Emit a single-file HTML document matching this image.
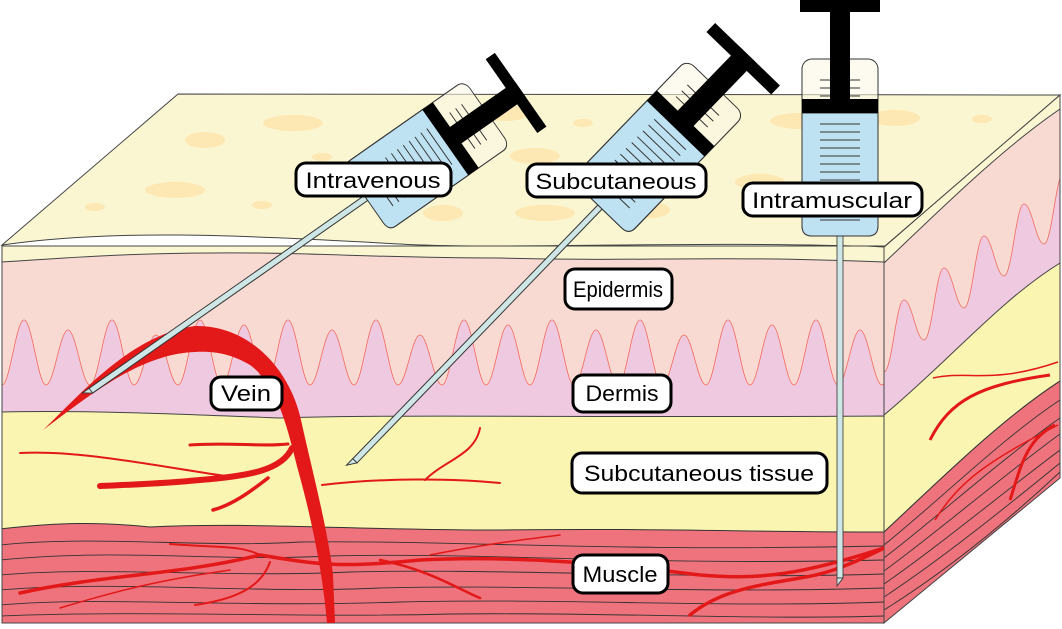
<!DOCTYPE html>
<html><head><meta charset="utf-8"><style>
html,body{margin:0;padding:0;background:#fff;}
svg{display:block;}
text{font-family:"Liberation Sans",sans-serif;font-size:22px;fill:#000;}
</style></head><body>
<svg width="1062" height="629" viewBox="0 0 1062 629" xmlns="http://www.w3.org/2000/svg">
<defs>
<clipPath id="front"><rect x="2" y="246" width="882" height="377"/></clipPath>
<clipPath id="right"><polygon points="884,247 1060,95 1060,478 884,623"/></clipPath>
</defs>
<path d="M2,245 L178,94 L1060,95 L884,247 C700,240 500,250 400,244 C250,236 120,228 2,245 Z" fill="#fbf6d2" stroke="#444" stroke-width="1"/>
<g fill="#fde7b2">
<ellipse cx="293" cy="123" rx="30" ry="8"/><ellipse cx="205" cy="140" rx="20" ry="8"/>
<ellipse cx="175" cy="190" rx="30" ry="8"/><ellipse cx="95" cy="207" rx="10" ry="4"/>
<ellipse cx="262" cy="205" rx="10" ry="4"/><ellipse cx="322" cy="157" rx="10" ry="4"/>
<ellipse cx="443" cy="213" rx="20" ry="8"/><ellipse cx="505" cy="113" rx="25" ry="8"/>
<ellipse cx="545" cy="213" rx="30" ry="8"/><ellipse cx="583" cy="123" rx="10" ry="4"/>
<ellipse cx="650" cy="210" rx="20" ry="8"/><ellipse cx="535" cy="156" rx="25" ry="8"/>
<ellipse cx="800" cy="121" rx="30" ry="8"/><ellipse cx="895" cy="118" rx="25" ry="8"/>
<ellipse cx="982" cy="119" rx="10" ry="4"/><ellipse cx="760" cy="182" rx="25" ry="8"/>
</g>
<g clip-path="url(#front)">
<rect x="2" y="240" width="882" height="390" fill="#f9dad2"/>
<path d="M0,246 C150,226 300,240 400,244 C600,250 750,238 884,247 L884,262 C700,255 650,262 500,258 C350,258 300,250 150,254 C80,256 40,260 0,262 Z" fill="#fbf6d2" stroke="#444" stroke-width="1"/>
<path d="M2,385 c8,0 14,-65 22,-65 s14,65 22,65 s14,-55 22,-55 s14,55 22,55 s14,-65 22,-65 s14,65 22,65 s14,-50 22,-50 s14,50 22,50 s14,-65 22,-65 s14,65 22,65 s14,-60 22,-60 s14,60 22,60 s14,-65 22,-65 s14,65 22,65 s14,-55 22,-55 s14,55 22,55 s14,-65 22,-65 s14,65 22,65 s14,-50 22,-50 s14,50 22,50 s14,-65 22,-65 s14,65 22,65 s14,-60 22,-60 s14,60 22,60 s14,-65 22,-65 s14,65 22,65 s14,-55 22,-55 s14,55 22,55 s14,-65 22,-65 s14,65 22,65 s14,-50 22,-50 s14,50 22,50 s14,-65 22,-65 s14,65 22,65 s14,-60 22,-60 s14,60 22,60 s14,-65 22,-65 s14,65 22,65 s14,-55 22,-55 s14,55 22,55 s14,-65 22,-65 s14,65 22,65 s14,-50 22,-50 s14,50 22,50 s14,-65 22,-65 s14,65 22,65 s14,-60 22,-60 s14,60 22,60 L890,430 L0,430 Z" fill="#efc9e0" stroke="#f26a5a" stroke-width="0.8"/>
<path d="M0,412 C100,410 200,415 280,418 C400,414 600,418 884,416 L884,540 L0,540 Z" fill="#faf5b0" stroke="#444" stroke-width="1"/>
<path d="M0,529 C60,522 100,522 150,527 C250,522 350,530 500,530 C650,528 750,532 884,532 L884,630 L0,630 Z" fill="#ee737c" stroke="#333" stroke-width="1"/>
<g fill="none" stroke="#333" stroke-width="0.9">
<path d="M0,545 C100,535 200,548 300,542 C450,540 600,552 884,546"/>
<path d="M0,560 C120,548 220,562 330,556 C480,552 650,566 884,560"/>
<path d="M0,575 C100,566 220,578 350,572 C500,568 700,580 884,574"/>
<path d="M0,590 C120,580 250,594 380,588 C520,584 700,594 884,588"/>
<path d="M0,605 C100,596 240,608 400,602 C560,598 720,608 884,602"/>
<path d="M0,616 C150,610 300,618 450,614 C600,612 750,620 884,616"/>
</g>
</g>
<rect x="2" y="246" width="882" height="377" fill="none" stroke="#444" stroke-width="1"/>
<g clip-path="url(#right)">
<rect x="884" y="90" width="180" height="540" fill="#f9dad2"/>
<path d="M884,247 C940,200 1000,140 1060,95 L1060,109 C1000,150 940,210 884,263 Z" fill="#fbf6d2" stroke="#444"/>
<path d="M884,372 c8,0 12,-72 20,-72 s12,40 20,40 s12,-72 20,-72 s12,40 20,40 s12,-72 20,-72 s12,40 20,40 s12,-72 20,-72 s12,40 20,40 s12,-72 20,-72 s12,40 20,40 L1070,300 L1070,263 L884,415 Z" fill="#efc9e0" stroke="#f26a5a" stroke-width="0.8"/>
<path d="M884,415 C950,360 1000,300 1060,263 L1060,381 C1000,420 940,480 884,532 Z" fill="#faf5b0" stroke="#444"/>
<path d="M884,532 C940,480 1000,420 1060,381 L1060,480 L884,623 Z" fill="#ee737c" stroke="#333"/>
<g fill="none" stroke="#333" stroke-width="0.9">
<path d="M884,545 C940,500 1000,440 1060,400"/><path d="M884,558 C940,515 1000,460 1060,418"/>
<path d="M884,571 C940,530 1000,478 1060,434"/><path d="M884,584 C940,545 1000,495 1060,450"/>
<path d="M884,597 C940,560 1000,512 1060,463"/><path d="M884,610 C940,575 1000,528 1060,472"/>
</g>
<g fill="none" stroke="#e31818">
<path d="M930,440 C950,400 980,385 1050,375" stroke-width="3"/>
<path d="M933,378 C970,370 990,385 1058,362" stroke-width="1.5"/>
<path d="M935,520 C960,480 990,460 1058,425" stroke-width="1.5"/>
<path d="M1010,500 C1020,470 1025,440 1055,425" stroke-width="3"/>
</g>
</g>
<polygon points="884,247 1060,95 1060,478 884,623" fill="none" stroke="#444"/>
<g clip-path="url(#front)">
<path d="M43,430 C80,395 130,335 195,326 C250,325 290,370 301,420 C312,470 328,530 333,575 L335,623 L327,623 C323,575 312,520 298,470 C288,430 278,385 250,365 C230,353 212,351 195,352 C140,354 90,395 43,430 Z" fill="#e31818"/>
<g fill="none" stroke="#e31818" stroke-linecap="round">
<path d="M292,448 C282,470 250,476 200,480 C160,484 120,485 100,486" stroke-width="6"/>
<path d="M288,444 C260,447 230,442 190,445" stroke-width="3"/>
<path d="M20,453 C80,450 150,465 225,476" stroke-width="2"/>
<path d="M268,478 C250,492 232,505 213,510" stroke-width="3.5"/>
<path d="M322,485 C380,478 450,478 500,483" stroke-width="2"/>
<path d="M425,480 C445,460 475,455 480,428" stroke-width="2"/>
<path d="M20,593 C100,575 180,575 260,555 C320,565 340,568 420,560 C520,555 620,565 700,575 C760,580 800,575 884,548" stroke-width="3.5"/>
<path d="M170,544 C220,548 240,545 260,555" stroke-width="2"/>
<path d="M60,608 C120,590 160,580 230,570" stroke-width="1.5"/>
<path d="M195,605 C230,600 260,590 270,562" stroke-width="2"/>
<path d="M380,560 C430,570 460,590 480,598" stroke-width="2.5"/>
<path d="M690,615 C720,590 760,585 800,578 C820,575 840,570 884,548" stroke-width="3.5"/>
<path d="M430,555 C480,545 520,540 560,535" stroke-width="1.5"/>
</g>
</g>
<g transform="translate(840,236)">
<rect x="-3" y="0" width="6" height="342" fill="#cfe6e6" stroke="#333" stroke-width="0.8"/>
<polygon points="-3,342 3,342 -3,350" fill="#cfe6e6" stroke="#333" stroke-width="0.8"/>
<rect x="-38" y="-177" width="76" height="177" rx="10" fill="#fbf6e6" fill-opacity="0.6" stroke="#333" stroke-width="1"/>
<path d="M-38,-123 L38,-123 L38,-10 Q38,0 28,0 L-28,0 Q-38,0 -38,-10 Z" fill="#bfe2f2" stroke="#333" stroke-width="1"/>
<g stroke="#333" stroke-width="1"><line x1="-20" y1="-112" x2="20" y2="-112"/><line x1="-20" y1="-104" x2="20" y2="-104"/><line x1="-20" y1="-96" x2="20" y2="-96"/><line x1="-20" y1="-88" x2="20" y2="-88"/><line x1="-20" y1="-80" x2="20" y2="-80"/><line x1="-20" y1="-72" x2="20" y2="-72"/><line x1="-20" y1="-64" x2="20" y2="-64"/><line x1="-20" y1="-56" x2="20" y2="-56"/><line x1="-20" y1="-48" x2="20" y2="-48"/><line x1="-20" y1="-40" x2="20" y2="-40"/><line x1="-20" y1="-32" x2="20" y2="-32"/><line x1="-20" y1="-24" x2="20" y2="-24"/><line x1="-20" y1="-16" x2="20" y2="-16"/><line x1="-20" y1="-156" x2="20" y2="-156"/><line x1="-20" y1="-148" x2="20" y2="-148"/><line x1="-20" y1="-140" x2="20" y2="-140"/></g>
<rect x="-38" y="-137" width="76" height="14" fill="#000"/>
<rect x="-10" y="-236" width="20" height="100" fill="#000"/>
<rect x="-40" y="-236" width="80" height="12" fill="#000"/>
</g>
<g transform="translate(366,198) rotate(55) scale(1,0.8)">
<rect x="-3" y="0" width="6" height="420" fill="#cfe6e6" stroke="#333" stroke-width="1"/>
<polygon points="-3,420 3,420 -3,430" fill="#cfe6e6" stroke="#333" stroke-width="1"/>
<rect x="-40" y="-185" width="80" height="185" rx="10" fill="#fbf6e6" fill-opacity="0.6" stroke="#333" stroke-width="1.1"/>
<path d="M-40,-123 L40,-123 L40,-10 Q40,0 30,0 L-30,0 Q-40,0 -40,-10 Z" fill="#bfe2f2" stroke="#333" stroke-width="1.1"/>
<g stroke="#333" stroke-width="1.2"><line x1="-22" y1="-112" x2="22" y2="-112"/><line x1="-22" y1="-103" x2="22" y2="-103"/><line x1="-22" y1="-94" x2="22" y2="-94"/><line x1="-22" y1="-85" x2="22" y2="-85"/><line x1="-22" y1="-76" x2="22" y2="-76"/><line x1="-22" y1="-67" x2="22" y2="-67"/><line x1="-22" y1="-58" x2="22" y2="-58"/><line x1="-22" y1="-49" x2="22" y2="-49"/><line x1="-22" y1="-40" x2="22" y2="-40"/><line x1="-22" y1="-31" x2="22" y2="-31"/><line x1="-22" y1="-22" x2="22" y2="-22"/><line x1="-22" y1="-165" x2="22" y2="-165"/><line x1="-22" y1="-156" x2="22" y2="-156"/><line x1="-22" y1="-147" x2="22" y2="-147"/></g>
<rect x="-40" y="-137" width="80" height="16" fill="#000"/>
<rect x="-10" y="-236" width="20" height="100" fill="#000"/>
<rect x="-45" y="-236" width="90" height="14" fill="#000"/>
</g>
<g transform="translate(600,207) rotate(44) scale(1,0.9)">
<rect x="-3" y="0" width="6" height="392" fill="#cfe6e6" stroke="#333" stroke-width="1"/>
<polygon points="-3,392 3,392 -3,402" fill="#cfe6e6" stroke="#333" stroke-width="1"/>
<rect x="-40" y="-185" width="80" height="185" rx="10" fill="#fbf6e6" fill-opacity="0.6" stroke="#333" stroke-width="1.1"/>
<path d="M-40,-123 L40,-123 L40,-10 Q40,0 30,0 L-30,0 Q-40,0 -40,-10 Z" fill="#bfe2f2" stroke="#333" stroke-width="1.1"/>
<g stroke="#333" stroke-width="1.1"><line x1="-22" y1="-112" x2="22" y2="-112"/><line x1="-22" y1="-103" x2="22" y2="-103"/><line x1="-22" y1="-94" x2="22" y2="-94"/><line x1="-22" y1="-85" x2="22" y2="-85"/><line x1="-22" y1="-76" x2="22" y2="-76"/><line x1="-22" y1="-67" x2="22" y2="-67"/><line x1="-22" y1="-58" x2="22" y2="-58"/><line x1="-22" y1="-49" x2="22" y2="-49"/><line x1="-22" y1="-40" x2="22" y2="-40"/><line x1="-22" y1="-31" x2="22" y2="-31"/><line x1="-22" y1="-22" x2="22" y2="-22"/><line x1="-22" y1="-165" x2="22" y2="-165"/><line x1="-22" y1="-156" x2="22" y2="-156"/><line x1="-22" y1="-147" x2="22" y2="-147"/></g>
<rect x="-40" y="-137" width="80" height="16" fill="#000"/>
<rect x="-11" y="-236" width="22" height="100" fill="#000"/>
<rect x="-45" y="-236" width="90" height="14" fill="#000"/>
</g>
<g fill="#fff" stroke="#000" stroke-width="3">
<rect x="296" y="163" width="155" height="33" rx="10"/>
<rect x="527" y="164" width="179" height="33" rx="10"/>
<rect x="743" y="183" width="179" height="33" rx="10"/>
<rect x="565" y="269" width="107" height="40" rx="10"/>
<rect x="573" y="375" width="98" height="37" rx="10"/>
<rect x="572" y="453" width="255" height="40" rx="10"/>
<rect x="573" y="555" width="95" height="38" rx="10"/>
<rect x="211" y="377" width="71" height="33" rx="10"/>
</g>
<g text-anchor="middle">
<text x="373" y="188" textLength="135" lengthAdjust="spacingAndGlyphs">Intravenous</text>
<text x="616" y="189" textLength="161" lengthAdjust="spacingAndGlyphs">Subcutaneous</text>
<text x="832" y="208" textLength="160" lengthAdjust="spacingAndGlyphs">Intramuscular</text>
<text x="618" y="297" font-size="23" textLength="90" lengthAdjust="spacingAndGlyphs">Epidermis</text>
<text x="622" y="401" textLength="73" lengthAdjust="spacingAndGlyphs">Dermis</text>
<text x="699" y="481" textLength="230" lengthAdjust="spacingAndGlyphs">Subcutaneous tissue</text>
<text x="620" y="582" textLength="75" lengthAdjust="spacingAndGlyphs">Muscle</text>
<text x="246" y="401" textLength="50" lengthAdjust="spacingAndGlyphs">Vein</text>
</g>
</svg>
</body></html>
